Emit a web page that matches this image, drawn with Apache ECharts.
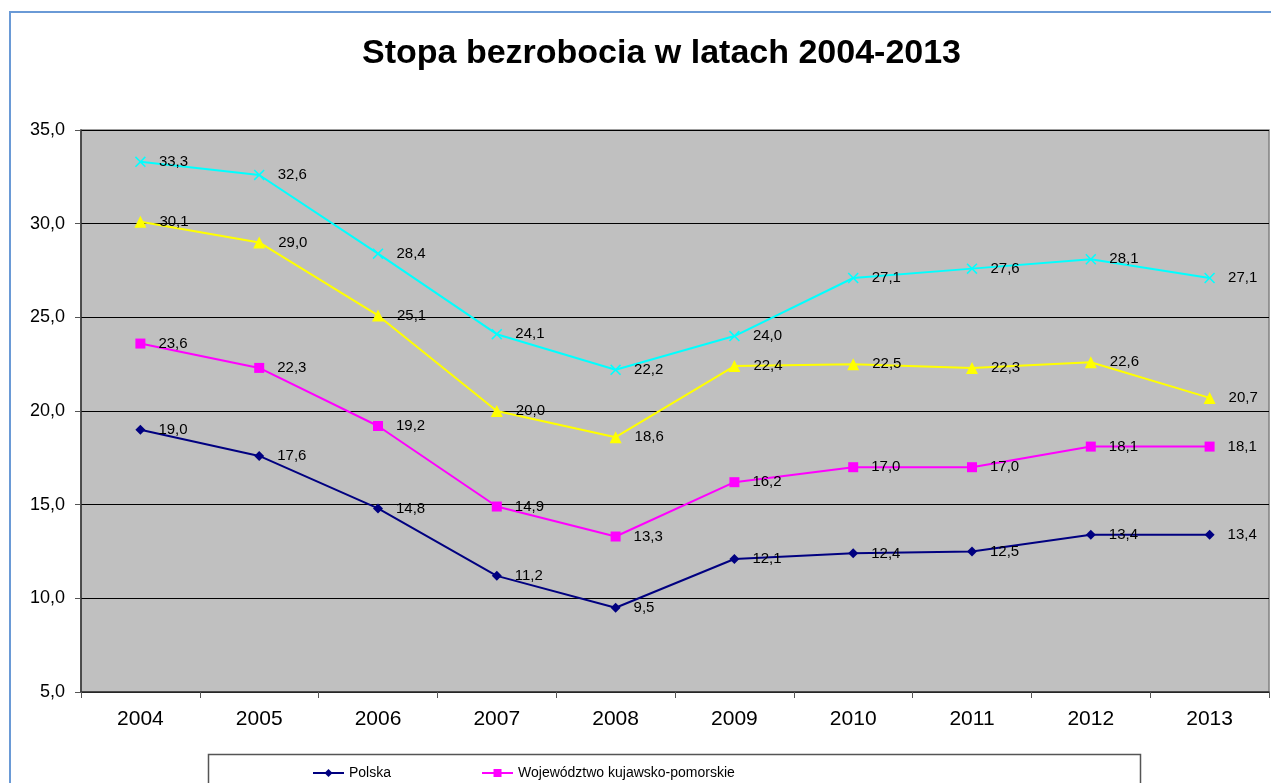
<!DOCTYPE html>
<html>
<head>
<meta charset="utf-8">
<script src="https://cdn.jsdelivr.net/npm/echarts@6/dist/echarts.min.js"></script>
<style>
  html, body { margin: 0; padding: 0; background: #fff; }
  #chart { width: 1271px; height: 783px; }
</style>
</head>
<body>
<div id="chart"></div>
<script>
const years = ['2004', '2005', '2006', '2007', '2008', '2009', '2010', '2011', '2012', '2013'];
const polska = [19.0, 17.6, 14.8, 11.2, 9.5, 12.1, 12.4, 12.5, 13.4, 13.4];
const kujawsko = [23.6, 22.3, 19.2, 14.9, 13.3, 16.2, 17.0, 17.0, 18.1, 18.1];
const seria3 = [30.1, 29.0, 25.1, 20.0, 18.6, 22.4, 22.5, 22.3, 22.6, 20.7];
const seria4 = [33.3, 32.6, 28.4, 24.1, 22.2, 24.0, 27.1, 27.6, 28.1, 27.1];

const fmt = (v) => v.toFixed(1).replace('.', ',');
const crossPath = 'path://M0,1L1,0L5,4L9,0L10,1L6,5L10,9L9,10L5,6L1,10L0,9L4,5Z';

const makeSerie = (name, data, color, symbol, size) => ({
  name: name,
  type: 'line',
  data: data,
  symbol: symbol,
  symbolSize: size,
  showAllSymbol: true,
  lineStyle: { color: color, width: 2 },
  itemStyle: { color: color },
  label: {
    show: true,
    position: 'right',
    distance: 13,
    color: '#000',
    fontSize: 15,
    fontFamily: 'Liberation Sans, Arial, sans-serif',
    formatter: (p) => fmt(p.value)
  },
  emphasis: { disabled: true },
  animation: false
});

const myChart = echarts.init(document.getElementById('chart'));
const option = {
  animation: false,
  textStyle: { fontFamily: 'Liberation Sans, Arial, sans-serif' },
  title: {
    text: 'Stopa bezrobocia w latach 2004-2013',
    left: 357,
    top: 32,
    textStyle: { fontSize: 34, fontWeight: 'bold', color: '#000' }
  },
  graphic: [
    {
      type: 'rect',
      shape: { x: 10, y: 12, width: 1320, height: 820 },
      style: { fill: 'none', stroke: '#6a9ad6', lineWidth: 2 },
      z: -1
    },
    {
      type: 'rect',
      shape: { x: 208.5, y: 754.5, width: 932, height: 60 },
      style: { fill: '#fff', stroke: '#555', lineWidth: 1.5 },
      z: -1
    }
  ],
  legend: {
    data: ['Polska', 'Województwo kujawsko-pomorskie'],
    left: 307,
    top: 761,
    itemWidth: 31,
    itemHeight: 10,
    itemGap: 90,
    textStyle: { fontSize: 14, color: '#000' }
  },
  grid: {
    left: 81,
    right: 2,
    top: 130,
    bottom: 91,
    show: true,
    backgroundColor: '#c0c0c0',
    borderColor: '#808080',
    borderWidth: 1.5
  },
  xAxis: {
    type: 'category',
    data: years,
    boundaryGap: true,
    axisLine: { lineStyle: { color: '#333', width: 1.5 } },
    axisTick: { show: true, inside: false, length: 6, lineStyle: { color: '#555' } },
    axisLabel: { fontSize: 21, color: '#000', margin: 17 }
  },
  yAxis: {
    type: 'value',
    min: 5,
    max: 35,
    interval: 5,
    axisLine: { show: true, lineStyle: { color: '#333', width: 1.5 } },
    axisTick: { show: true, inside: false, length: 6, lineStyle: { color: '#555' } },
    axisLabel: { fontSize: 18, color: '#000', margin: 16, formatter: (v) => fmt(v) },
    splitLine: { lineStyle: { color: '#000', width: 1 } }
  },
  series: [
    makeSerie('Polska', polska, '#000080', 'diamond', 10),
    makeSerie('Województwo kujawsko-pomorskie', kujawsko, '#ff00ff', 'rect', 10),
    makeSerie('Seria 3', seria3, '#ffff00', 'triangle', 12),
    makeSerie('Seria 4', seria4, '#00ffff', crossPath, 11)
  ]
};
myChart.setOption(option, true);
</script>
</body>
</html>
